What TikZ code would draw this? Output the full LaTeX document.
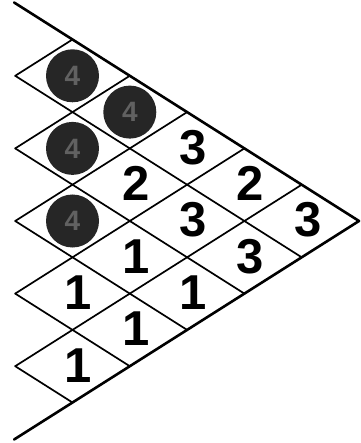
\documentclass[tikz,border=0pt]{standalone}
\usepackage{fontspec}
\setmainfont{Liberation Sans}
\usetikzlibrary{positioning}

\begin{document}
\begin{tikzpicture}[x=1pt, y=-1pt, line cap=round, line join=round,
  edge/.style={line width=1.7pt},
  border/.style={line width=2.6pt},
  ball/.style={circle, fill=black!85, minimum size=53pt, inner sep=0pt,
    text=black!62, font=\fontsize{28}{28}\selectfont\bfseries},
  num/.style={font=\fontsize{49}{49}\selectfont\bfseries, xshift=6pt, yshift=1pt}]
  \useasboundingbox (0,0) rectangle (360,443);

  % lines along the upper border
  \draw[edge] (301.7,257.3) -- (15.2,75.8);
  \draw[edge] (244.4,293.6) -- (15.2,148.4);
  \draw[edge] (187.1,329.9) -- (15.2,221);
  \draw[edge] (129.8,366.2) -- (15.2,293.6);
  \draw[edge] (72.5,402.5) -- (15.2,366.2);

  % lines along the lower border
  \draw[edge] (301.7,184.7) -- (15.2,366.2);
  \draw[edge] (244.4,148.4) -- (15.2,293.6);
  \draw[edge] (187.1,112.1) -- (15.2,221);
  \draw[edge] (129.8,75.8) -- (15.2,148.4);
  \draw[edge] (72.5,39.5) -- (15.2,75.8);

  \draw[border] (14.1,2.5) -- (359,221) -- (14.1,439.5);

  % first row
  \node[num] (c00) at (301.7,221) {3};
  \node[num] (c10) at (244.4,184.7) {2};
  \node[num] (c20) at (187.1,148.4) {3};
  \node[ball] (c30) at (129.8,112.1) {4};
  \node[ball] (c40) at (72.5,75.8) {4};
  % second row
  \node[num] (c01) at (244.4,257.3) {3};
  \node[num] (c11) at (187.1,221) {3};
  \node[num] (c21) at (129.8,184.7) {2};
  \node[ball] (c31) at (72.5,148.4) {4};
  % third row
  \node[num] (c02) at (187.1,293.6) {1};
  \node[num] (c12) at (129.8,257.3) {1};
  \node[ball] (c22) at (72.5,221) {4};
  % last rows
  \node[num] (c03) at (129.8,329.9) {1};
  \node[num] (c13) at (72.5,293.6) {1};
  \node[num] (c04) at (72.5,366.2) {1};
\end{tikzpicture}
\end{document}
